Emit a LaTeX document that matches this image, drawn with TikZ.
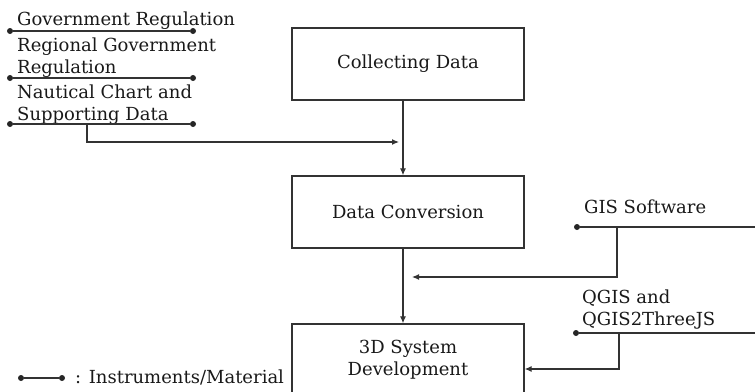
\documentclass[tikz,border=0pt]{standalone}
\usepackage{fontspec}
\setmainfont{DejaVu Serif}
\usetikzlibrary{positioning, arrows.meta}

\begin{document}
\begin{tikzpicture} [x = 1pt, y = -1pt,
			node distance = 148pt,
			on grid,
			font = \fontsize{18}{22}\selectfont,
			stage/.style = {draw = black!80, line width = 1.3pt,
				minimum width = 232pt, minimum height = 72pt,
				align = center, text = black!90
			},
			material/.style = {anchor = base west, inner sep = 0pt,
				align = left, text = black!90
			},
			enddot/.style = {circle, fill = black!85, inner sep = 0pt,
				minimum size = 6pt
			},
			tool/.style = {draw = black!80, line width = 1.2pt},
			flow/.style = {tool, -{Latex[length = 7pt, width = 6pt]}}
			]
			\useasboundingbox (0,0) rectangle (755,391);
			\clip (0,0) rectangle (755,391);
			% Stages
			\node (collect) [stage] at (408,64) {Collecting Data};
			\node (convert) [stage, below = of collect] {Data Conversion};
			\node (develop) [stage, below = of convert] {3D System\\Development};
			% Instruments and material
			\node (govreg) [material] at (17,25) {Government Regulation};
			\node (regreg) [material] at (17,73) {Regional Government\\Regulation};
			\node (chart) [material] at (17,120) {Nautical Chart and\\Supporting Data};
			\node (gis) [material] at (584,213) {GIS Software};
			\node (qgis) [material] at (582,325) {QGIS and\\QGIS2ThreeJS};
			\node (legend) [material] at (75,383) {: Instruments/Material};
			
			\node (govreg-a) [enddot] at (10,31) {};
			\node (govreg-b) [enddot] at (193,31) {};
			\node (regreg-a) [enddot] at (10,78) {};
			\node (regreg-b) [enddot] at (193,78) {};
			\node (chart-a) [enddot] at (10,124) {};
			\node (chart-b) [enddot] at (193,124) {};
			\node (gis-a) [enddot] at (577,227) {};
			\node (qgis-a) [enddot] at (576,333) {};
			\node (legend-a) [enddot] at (21,378) {};
			\node (legend-b) [enddot] at (62,378) {};
			\coordinate (gis-b) at (760,227);
			\coordinate (qgis-b) at (760,333);
			\coordinate (chart-drop) at (87,124);
			\coordinate (chart-in) at (399,142);
			\coordinate (gis-drop) at (617,227);
			\coordinate (gis-in) at (412,277);
			\coordinate (qgis-drop) at (619,333);
			\coordinate (qgis-turn) at (619,369);
			
			\draw [tool] (govreg-a) -- (govreg-b);
			\draw [tool] (regreg-a) -- (regreg-b);
			\draw [tool] (chart-a) -- (chart-b);
			\draw [tool] (gis-a) -- (gis-b);
			\draw [tool] (qgis-a) -- (qgis-b);
			\draw [tool] (legend-a) -- (legend-b);
			%Flows
			\draw [flow] ([xshift = -5pt]collect.south) -- ([xshift = -5pt]convert.north);
			\draw [flow] ([xshift = -5pt]convert.south) -- ([xshift = -5pt]develop.north);
			\draw [flow] (chart-drop) |- (chart-in);
			\draw [flow] (gis-drop) |- (gis-in);
			\draw [flow] (qgis-drop) |- (develop.east |- qgis-turn);
		\end{tikzpicture}
\end{document}
